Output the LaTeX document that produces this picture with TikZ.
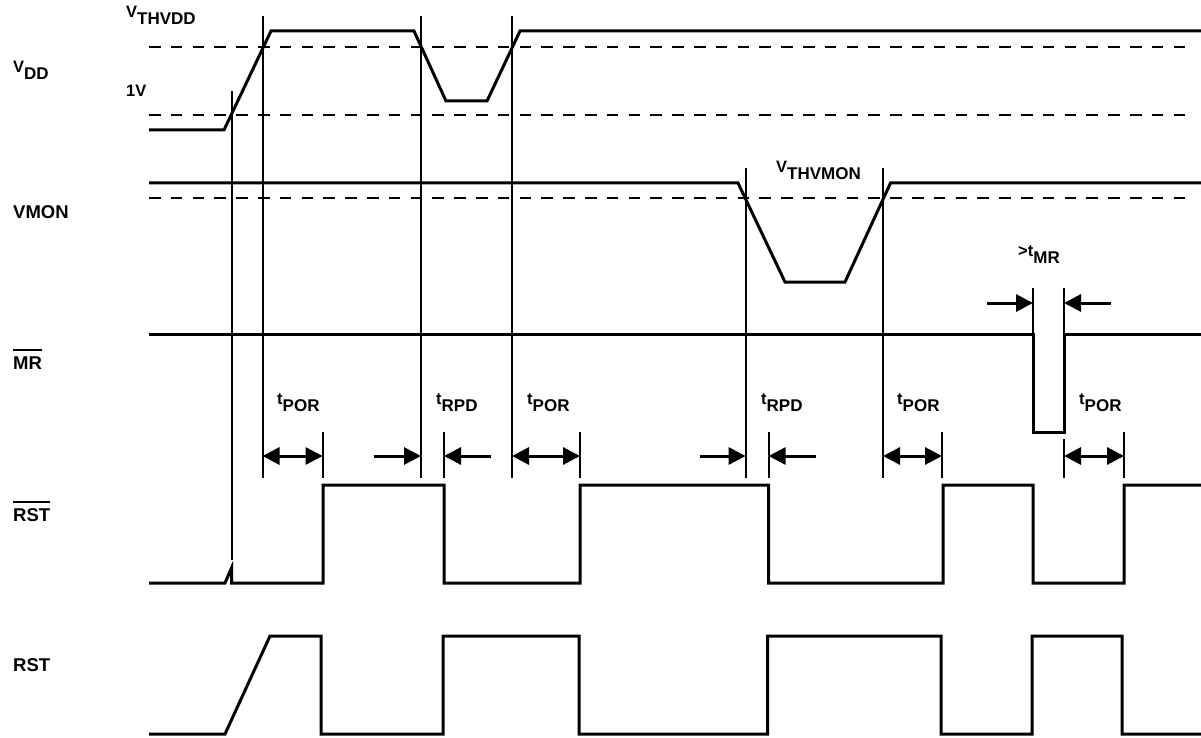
\documentclass[tikz,border=0pt]{standalone}
\usepackage{fontspec}
\setmainfont{Liberation Sans}
\usepackage{calc}
\usetikzlibrary{arrows.meta,positioning}
\newcommand{\subtxt}[1]{\raisebox{-7pt}{\fontsize{17}{18}\selectfont #1}}
\newcommand{\ovl}[1]{\rlap{\rule[18pt]{\widthof{#1}}{2pt}}#1}

\begin{document}
\begin{tikzpicture}[x=1pt,y=-1pt,
wave/.style={line width=3pt,line join=miter},
thres/.style={line width=2.2pt,dash pattern=on 11.5pt off 10.3pt},
guide/.style={line width=2pt},
dimarr/.style={line width=3pt,-{Triangle[length=17pt,width=17pt]}},
dimboth/.style={line width=3pt,{Triangle[length=17pt,width=17pt]}-{Triangle[length=17pt,width=17pt]}},
sig/.style={anchor=base west,inner sep=0pt,font=\bfseries\fontsize{18.5}{20}\selectfont},
lab/.style={anchor=base west,inner sep=0pt,font=\bfseries\fontsize{16.5}{18}\selectfont}]
\useasboundingbox (0,0) rectangle (1201,738);

% signal names
\node[lab] (vdd) at (13,73) {V\subtxt{DD}};
\node[sig] (vmon) at (13,218) {VMON};
\node[sig] (mr) at (13,369) {\ovl{MR}};
\node[sig] (rstb) at (13,521) {\ovl{RST}};
\node[sig] (rst) at (13,671) {RST};

% thresholds
\node[lab] (vthvdd) at (126,18) {V\subtxt{THVDD}};
\node[lab] (onev) at (126,97) {1V};
\node[lab] (vthvmon) at (776,173) {V\subtxt{THVMON}};
\draw[thres] (149,47) -- (1192,47);
\draw[thres] (149,115) -- (1192,115);
\draw[thres] (149,198) -- (1192,198);

% waveforms
\draw[wave] (149,130) -- (224,130) -- (271,31) -- (414,31) -- (446,101) -- (487,101) -- (520,31) -- (1201,31);
\draw[wave] (149,183) -- (738,183) -- (785,282) -- (845,282) -- (890.5,183) -- (1201,183);
\draw[wave] (149,334) -- (1033,334) -- (1033,432) -- (1064,432) -- (1064,334) -- (1201,334);
\draw[wave] (149,583) -- (225,583) -- (231.5,568) -- (231.5,583) -- (323,583) -- (323,485) -- (444,485)
  -- (444,583) -- (580,583) -- (580,485) -- (768.6,485) -- (768.6,583) -- (943,583) -- (943,485)
  -- (1033,485) -- (1033,583) -- (1124,583) -- (1124,485) -- (1201,485);
\draw[wave] (149,734) -- (225,734) -- (270,636) -- (321,636) -- (321,734) -- (443,734) -- (443,636)
  -- (579,636) -- (579,734) -- (767.5,734) -- (767.5,636) -- (941,636) -- (941,734) -- (1032,734)
  -- (1032,636) -- (1122,636) -- (1122,734) -- (1201,734);

% guide lines
\draw[guide] (231.5,91) -- (231.5,560);
\draw[guide] (262.5,16) -- (262.5,478);
\draw[guide] (421,16) -- (421,478);
\draw[guide] (512,16) -- (512,478);
\draw[guide] (745.6,168) -- (745.6,478);
\draw[guide] (883,168) -- (883,478);
\draw[guide] (322.6,432) -- (322.6,478);
\draw[guide] (444,432) -- (444,478);
\draw[guide] (580,432) -- (580,478);
\draw[guide] (768.6,432) -- (768.6,478);
\draw[guide] (942,432) -- (942,478);
\draw[guide] (1064,439) -- (1064,478);
\draw[guide] (1124,432) -- (1124,478);
\draw[guide] (1033,288) -- (1033,334);
\draw[guide] (1064,288) -- (1064,334);

% timing
\coordinate (p1a) at (262.5,456);
\coordinate (p1b) at (322.6,456);
\coordinate (r1a) at (374,456);
\coordinate (r1b) at (421,456);
\coordinate (r1c) at (444,456);
\coordinate (r1d) at (491,456);
\coordinate (p2a) at (512,456);
\coordinate (p2b) at (580,456);
\coordinate (r2a) at (700,456);
\coordinate (r2b) at (745.6,456);
\coordinate (r2c) at (768.6,456);
\coordinate (r2d) at (816,456);
\coordinate (p3a) at (883,456);
\coordinate (p3b) at (942,456);
\coordinate (p4a) at (1064,456);
\coordinate (p4b) at (1124,456);
\coordinate (m1a) at (987,303);
\coordinate (m1b) at (1033,303);
\coordinate (m1c) at (1064,303);
\coordinate (m1d) at (1111,303);
\draw[dimboth] (p1a) -- (p1b);
\draw[dimarr] (r1a) -- (r1b);
\draw[dimarr] (r1d) -- (r1c);
\draw[dimboth] (p2a) -- (p2b);
\draw[dimarr] (r2a) -- (r2b);
\draw[dimarr] (r2d) -- (r2c);
\draw[dimboth] (p3a) -- (p3b);
\draw[dimboth] (p4a) -- (p4b);
\draw[dimarr] (m1a) -- (m1b);
\draw[dimarr] (m1d) -- (m1c);

\node[lab] (tpor1) at (277,404) {t\subtxt{POR}};
\node[lab] (trpd1) at (436,404) {t\subtxt{RPD}};
\node[lab] (tpor2) at (527,404) {t\subtxt{POR}};
\node[lab] (trpd2) at (761,404) {t\subtxt{RPD}};
\node[lab] (tpor3) at (897,404) {t\subtxt{POR}};
\node[lab] (tpor4) at (1079,404) {t\subtxt{POR}};
\node[lab] (tmr) at (1018,256) {>t\subtxt{MR}};
\end{tikzpicture}
\end{document}
